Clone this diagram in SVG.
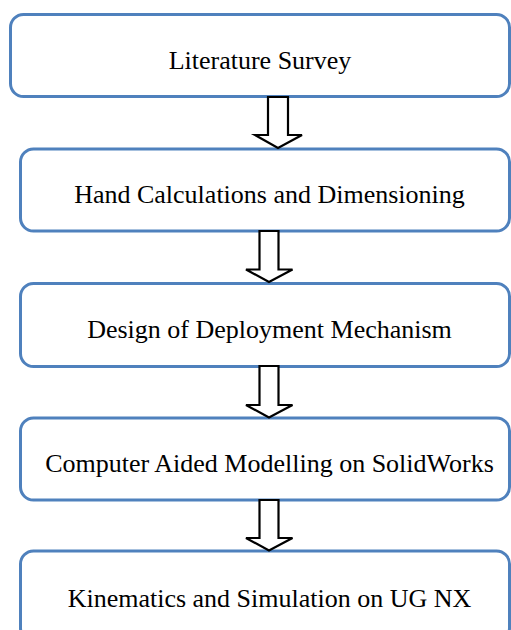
<svg xmlns="http://www.w3.org/2000/svg" width="511" height="630" viewBox="0 0 511 630">
<style>
.box{fill:#fff;stroke:#4f81bd;stroke-width:3}
.lbl{font-family:'Liberation Serif','DejaVu Serif',serif;font-size:26px;fill:#000;text-anchor:middle}
.arr{fill:#fff;stroke:#000;stroke-width:2.2;stroke-linejoin:miter}
</style>
<rect width="511" height="630" fill="#fff"/>
<g id="n1"><rect class="box" x="10.5" y="14.5" width="499" height="82" rx="13"/><text class="lbl" x="260" y="69" font-family="Liberation Serif, serif">Literature Survey</text></g>
<g id="n2"><rect class="box" x="20.5" y="149" width="489" height="82" rx="13"/><text class="lbl" x="269.5" y="203">Hand Calculations and Dimensioning</text></g>
<g id="n3"><rect class="box" x="20.5" y="283.5" width="489" height="83" rx="13"/><text class="lbl" x="269.5" y="337.5">Design of Deployment Mechanism</text></g>
<g id="n4"><rect class="box" x="20.5" y="418" width="489" height="82" rx="13"/><text class="lbl" x="269.5" y="471.5">Computer Aided Modelling on SolidWorks</text></g>
<g id="n5"><rect class="box" x="20.5" y="551" width="489" height="90" rx="13"/><text class="lbl" x="269.5" y="606.5">Kinematics and Simulation on UG NX</text></g>
<g id="connectors">
<polygon class="arr" points="268,97 288,97 288,135 302,135 278,148 255,135 268,135"/>
<polygon class="arr" points="259.5,231 278.5,231 278.5,269.5 292.5,269.5 269,282 246,269.5 259.5,269.5"/>
<polygon class="arr" points="259.5,366 278.5,366 278.5,405 292.5,405 269,417.5 246,405 259.5,405"/>
<polygon class="arr" points="259.5,500 278.5,500 278.5,538 292.5,538 269,550.5 246,538 259.5,538"/>
</g>
</svg>
